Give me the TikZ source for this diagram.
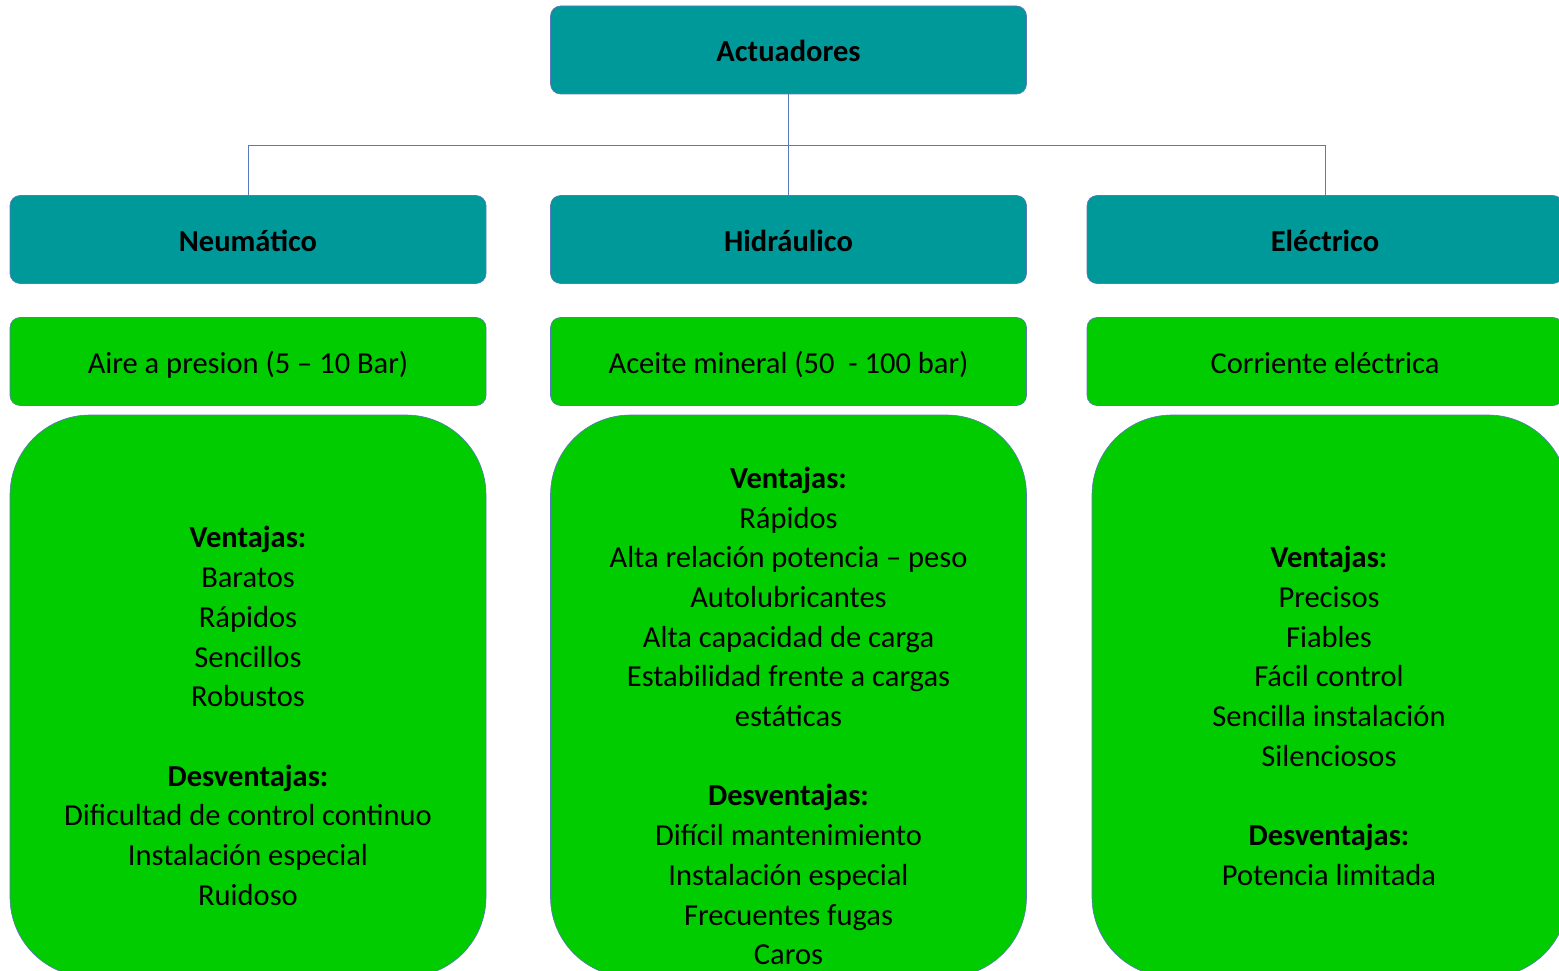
\documentclass[tikz,border=0pt]{standalone}
\usepackage{fontspec}
\setmainfont{Carlito}
\definecolor{turquesa}{RGB}{0,153,153}
\definecolor{verde}{RGB}{0,204,0}
\definecolor{bordeazul}{RGB}{90,120,190}

\begin{document}
\fontsize{30.5}{39.7}\selectfont
\begin{tikzpicture}[x=1pt, y=-1pt,
  caja/.style={draw=bordeazul, line width=0.6pt, rounded corners=10pt, minimum width=476pt, minimum height=88pt, inner sep=0pt, text height=23pt, text depth=0pt},
  tipo/.style={caja, fill=turquesa, font=\bfseries},
  fuente/.style={caja, fill=verde},
  lista/.style={draw=bordeazul, line width=0.6pt, fill=verde, rounded corners=80pt, minimum width=476pt, minimum height=562pt, inner sep=0pt},
  texto/.style={align=center, inner sep=0pt},
  linea/.style={draw=bordeazul, line width=0.8pt}]
\useasboundingbox (0,0) rectangle (1559,971);
\clip (0,0) rectangle (1559,971);
% Cajas
\node[tipo] (act) at (788.5,50) {Actuadores};
\node[tipo] (neu) at (248,239.5) {Neumático};
\node[tipo] (hid) at (788.5,239.5) {Hidráulico};
\node[tipo] (ele) at (1325,239.5) {Eléctrico};
\node[fuente] (fneu) at (248,361.5) {Aire a presion (5 – 10 Bar)};
\node[fuente] (fhid) at (788.5,361.5) {Aceite mineral (50~~- 100 bar)};
\node[fuente] (fele) at (1325,361.5) {Corriente eléctrica};
\node[lista] (lneu) at (248,696) {};
\node[lista] (lhid) at (788.5,696) {};
\node[lista] (lele) at (1330,696) {};
% Textos
\node[texto] (tneu) at (248,716) {\textbf{Ventajas:}\\Baratos\\Rápidos\\Sencillos\\Robustos\\[39.7pt]\textbf{Desventajas:}\\Dificultad de control continuo\\Instalación especial\\Ruidoso};
\node[texto] (thid) at (788.5,716) {\textbf{Ventajas:}\\Rápidos\\Alta relación potencia – peso\\Autolubricantes\\Alta capacidad de carga\\Estabilidad frente a cargas\\estáticas\\[39.7pt]\textbf{Desventajas:}\\Difícil mantenimiento\\Instalación especial\\Frecuentes fugas\\Caros};
\node[texto] (tele) at (1329,716) {\textbf{Ventajas:}\\Precisos\\Fiables\\Fácil control\\Sencilla instalación\\Silenciosos\\[39.7pt]\textbf{Desventajas:}\\Potencia limitada};
% Conexiones
\coordinate (rama) at (788.5,145);
\draw[linea] (act.south) -- (rama) -| (neu.north);
\draw[linea] (rama) -| (ele.north);
\draw[linea] (rama) -- (hid.north);
\end{tikzpicture}
\end{document}
